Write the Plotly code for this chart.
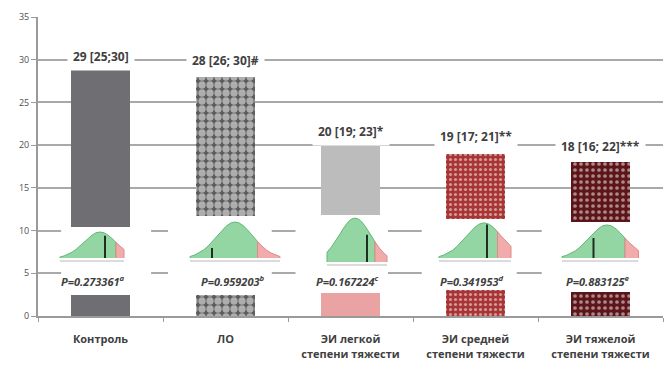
import plotly.graph_objects as go

# ---------------- data ----------------
categories = ["Контроль", "ЛО", "ЭИ легкой<br>степени тяжести",
              "ЭИ средней<br>степени тяжести", "ЭИ тяжелой<br>степени тяжести"]
medians = [29, 28, 20, 19, 18]
q_low = [25, 26, 19, 17, 16]
q_high = [30, 30, 23, 21, 22]
q_sep = ["", " ", " ", " ", " "]
sig_marks = ["", "#", "*", "**", "***"]
p_values = ["0.273361", "0.959203", "0.167224", "0.341953", "0.883125"]
p_marks = ["a", "b", "c", "d", "e"]

# visible bar pieces (bars are cut by the inset pictures)
lower_piece_top = [2.45, 2.45, 2.7, 3.0, 2.85]
upper_piece_base = [10.4, 11.7, 11.8, 11.3, 11.0]

# normal-curve inset shape (relative height vs relative x)
curve_rel_x = [round(-1.0 + 0.1 * i, 1) for i in range(21)]
half_profile = [1.0, 0.97, 0.88, 0.75, 0.60, 0.46, 0.33, 0.22, 0.14, 0.08, 0.04]
curve_profile = half_profile[::-1] + half_profile[1:]

# ---------------- styles / positions ----------------
lower_colors = ["#6e6e73", "#5c5c5c", "#e9a3a3", "#a83434", "#5c1518"]
upper_colors = ["#6e6e73", "#5c5c5c", "#bcbcbc", "#a83434", "#5c1518"]
pat_shapes = ["", ".", "", ".", "."]
pat_fg = ["#6e6e73", "#ffffff", "#bcbcbc", "#bb5656", "#7a3232"]
pat_size = [6, 8, 6, 5, 6]
pat_solid = [0.3, 0.65, 0.3, 0.3, 0.3]
label_shift = [12, 16, 14, 17, 16]

insets = [
    dict(peak_u=-0.004, halfw=0.32, lo=-1.0, hi=0.6, red=0.4, base=6.79, peak=9.83, line_u=0.036, line_top=9.4),
    dict(peak_u=1.076, halfw=0.36, lo=-1.0, hi=1.0, red=0.5, base=6.79, peak=11.0, line_u=0.892, line_top=7.96),
    dict(peak_u=2.036, halfw=0.32, lo=-0.7, hi=0.8, red=0.5, base=6.32, peak=11.47, line_u=2.132, line_top=9.5),
    dict(peak_u=3.068, halfw=0.36, lo=-1.0, hi=0.6, red=0.3, base=6.79, peak=10.9, line_u=3.092, line_top=10.7),
    dict(peak_u=4.052, halfw=0.36, lo=-1.0, hi=0.7, red=0.4, base=6.79, peak=10.66, line_u=3.944, line_top=9.13),
]
white_boxes = [(-0.315, 0.405), (0.54, 1.37), (1.56, 2.30), (2.57, 3.33), (3.53, 4.5)]
p_pos_u = [-0.06, 1.06, 1.972, 2.972, 3.98]
p_y = 4.1

fig = go.Figure()

# bars: lower visible piece
fig.add_trace(go.Bar(
    x=categories, y=lower_piece_top, width=0.47,
    marker=dict(color=lower_colors, line=dict(width=0),
                pattern=dict(shape=pat_shapes, fgcolor=pat_fg, bgcolor=lower_colors,
                             size=pat_size, solidity=pat_solid)),
    hoverinfo="skip", showlegend=False))
# bars: upper visible piece
fig.add_trace(go.Bar(
    x=categories, y=[m - b for m, b in zip(medians, upper_piece_base)], base=upper_piece_base,
    width=0.47,
    marker=dict(color=upper_colors, line=dict(width=0),
                pattern=dict(shape=pat_shapes, fgcolor=pat_fg, bgcolor=upper_colors,
                             size=pat_size, solidity=pat_solid)),
    hoverinfo="skip", showlegend=False))

# insets: normal curves on an overlay numeric axis
for ins in insets:
    i_lo = int(round((ins["lo"] + 1) * 10))
    i_hi = int(round((ins["hi"] + 1) * 10))
    i_red = int(round((ins["red"] + 1) * 10))
    xs = [ins["peak_u"] + ins["halfw"] * r for r in curve_rel_x]
    ys = [ins["base"] + (ins["peak"] - ins["base"]) * p for p in curve_profile]
    fig.add_trace(go.Scatter(x=[xs[i_lo], xs[i_hi]], y=[ins["base"] - 0.35] * 2, xaxis="x2",
                             mode="lines", line=dict(color="#cfcfcf", width=1.5),
                             hoverinfo="skip", showlegend=False))
    for a, b, fc, lc in [(i_lo, i_red, "#93d6a3", "#62b875"), (i_red, i_hi, "#f2abab", "#e08a8a")]:
        px = [xs[a]] + xs[a:b + 1] + [xs[b]]
        py = [ins["base"]] + ys[a:b + 1] + [ins["base"]]
        fig.add_trace(go.Scatter(x=px, y=py, xaxis="x2", mode="lines", fill="toself",
                                 fillcolor=fc, line=dict(color=lc, width=1),
                                 hoverinfo="skip", showlegend=False))
    fig.add_trace(go.Scatter(x=[ins["line_u"]] * 2, y=[ins["base"], ins["line_top"]], xaxis="x2",
                             mode="lines", line=dict(color="#1d2f1f", width=2),
                             hoverinfo="skip", showlegend=False))

# white boxes hiding gridlines behind the insets (numeric positions on the category axis)
for x0, x1 in white_boxes:
    fig.add_shape(type="rect", xref="x", yref="y", x0=x0, x1=x1, y0=3.6, y1=12.4,
                  fillcolor="white", line=dict(width=0), layer="between")

# labels above bars
for c, m, a, s, b, mk, sh in zip(categories, medians, q_low, q_sep, q_high, sig_marks, label_shift):
    fig.add_annotation(x=c, y=m, yshift=sh, text=f"{m} [{a};{s}{b}]{mk}", showarrow=False,
                       font=dict(family="Open Sans", size=12, color="#404040", weight="bold"),
                       bgcolor="white", borderpad=5, yanchor="middle")

# P values
for u, pv, pm in zip(p_pos_u, p_values, p_marks):
    fig.add_annotation(x=u, xref="x2", y=p_y, text=f"P={pv}<sup>{pm}</sup>", showarrow=False,
                       font=dict(family="Open Sans", size=11, color="#404040", weight="bold",
                                 style="italic"))

fig.update_layout(
    width=665, height=365,
    margin=dict(l=38, r=2, t=17, b=49),
    plot_bgcolor="white", paper_bgcolor="white",
    barmode="overlay", bargap=0,
    xaxis=dict(type="category", tickson="boundaries", ticks="outside", ticklen=4,
               tickcolor="#9a9a9a", showline=True, linecolor="#9a9a9a", linewidth=2,
               showgrid=False, range=[-0.5, 4.5], ticklabelstandoff=12,
               tickfont=dict(family="Open Sans", size=11, color="#404040", weight="bold")),
    xaxis2=dict(overlaying="x", range=[-0.5, 4.5], visible=False),
    yaxis=dict(range=[0, 35], dtick=5, showgrid=True, gridcolor="#a9a9a9", gridwidth=2,
               showline=True, linecolor="#9a9a9a", linewidth=2, ticks="outside", ticklen=5,
               tickcolor="#9a9a9a", zeroline=False,
               tickfont=dict(family="Open Sans", size=9, color="#505050")),
)

fig.write_html("out.html", config={"displayModeBar": False},
               post_script="document.body.style.margin='0';document.body.style.overflow='hidden';")
